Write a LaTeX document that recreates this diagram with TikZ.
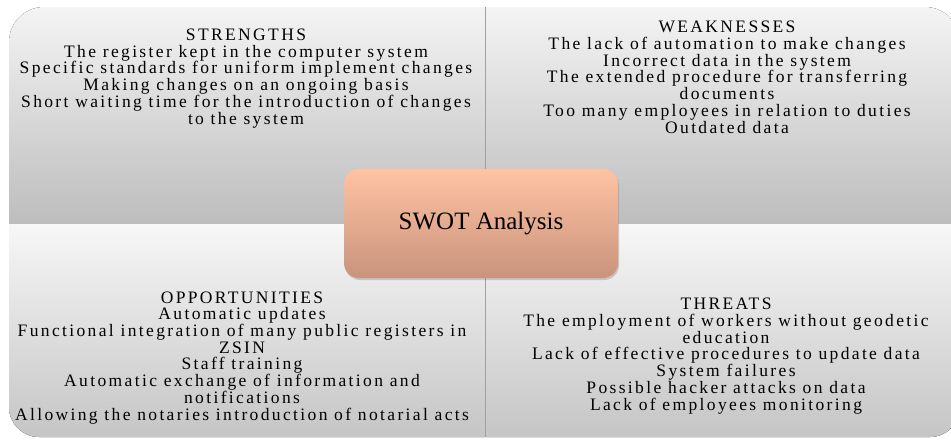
\documentclass[tikz,border=0pt]{standalone}
\usepackage{fontspec}
\setmainfont{Liberation Serif}
\newfontfamily\swotbody[LetterSpace=13.5]{Liberation Serif}
\newcommand\panelfont{\swotbody\fontsize{17.5}{16.7}\selectfont\lineskiplimit=-20pt\relax}
\usetikzlibrary{shadows}
\definecolor{paneltop}{HTML}{F4F4F4}
\definecolor{panelbot}{HTML}{BDBDBD}
\definecolor{lowtop}{HTML}{F7F7F7}
\definecolor{lowbot}{HTML}{C5C5C5}
\definecolor{hubtop}{HTML}{FFC3A3}
\definecolor{hubbot}{HTML}{C9937C}
\definecolor{seam}{HTML}{A0A0A0}
\begin{document}
\begin{tikzpicture}[x=1pt,y=-1pt,
  upper/.style={top color=paneltop,bottom color=panelbot},
  lower/.style={top color=lowtop,bottom color=lowbot},
  % anchored on the baseline of the last line
  listtext/.style={align=center,anchor=base,inner sep=0pt,font=\panelfont},
  hub/.style={rounded corners=15pt,top color=hubtop,bottom color=hubbot,
    minimum width=274pt,minimum height=109pt,inner sep=0pt,
    font=\fontsize{25}{30}\selectfont,
    drop shadow={opacity=0.35,shadow xshift=1pt,shadow yshift=-2pt}}]
\useasboundingbox (0,0) rectangle (951,440);
\clip (0,0) rectangle (951,440);

% four quadrant panels
\fill[upper] (9,224) -- (9,42) arc[start angle=180,end angle=270,radius=35]
  -- (485,7) -- (485,224) -- cycle;
\fill[upper] (486,224) -- (486,7) -- (925,7)
  arc[start angle=270,end angle=360,radius=35] -- (960,224) -- cycle;
\fill[lower] (9,224) -- (485,224) -- (485,437) -- (39,437)
  arc[start angle=90,end angle=180,radius=30] -- cycle;
\fill[lower] (486,224) -- (960,224) -- (960,407)
  arc[start angle=0,end angle=90,radius=30] -- (486,437) -- cycle;

% vertical seam between left and right panels
\coordinate (seamtop) at (485.5,7);
\coordinate (seambot) at (485.5,437);
\draw[seam,line width=1pt] (seamtop) -- (seambot);

% panel texts
\node[listtext] (strengths) at (246,124) {STRENGTHS\\The register kept in the computer system\\Specific standards for uniform implement changes\\Making changes on an ongoing basis\\Short waiting time for the introduction of changes\\to the system};
\node[listtext] (weaknesses) at (727,133) {WEAKNESSES\\The lack of automation to make changes\\Incorrect data in the system\\The extended procedure for transferring\\documents\\Too many employees in relation to duties\\Outdated data};
\node[listtext] (opportunities) at (242,420) {OPPORTUNITIES\\Automatic updates\\Functional integration of many public registers in\\ZSIN\\Staff training\\Automatic exchange of information and\\notifications\\Allowing the notaries introduction of notarial acts};
\node[listtext] (threats) at (726,410) {THREATS\\The employment of workers without geodetic\\education\\Lack of effective procedures to update data\\System failures\\Possible hacker attacks on data\\Lack of employees monitoring};

% central label
\node[hub] (swot) at (481,223.5) {SWOT Analysis};
\end{tikzpicture}
\end{document}
